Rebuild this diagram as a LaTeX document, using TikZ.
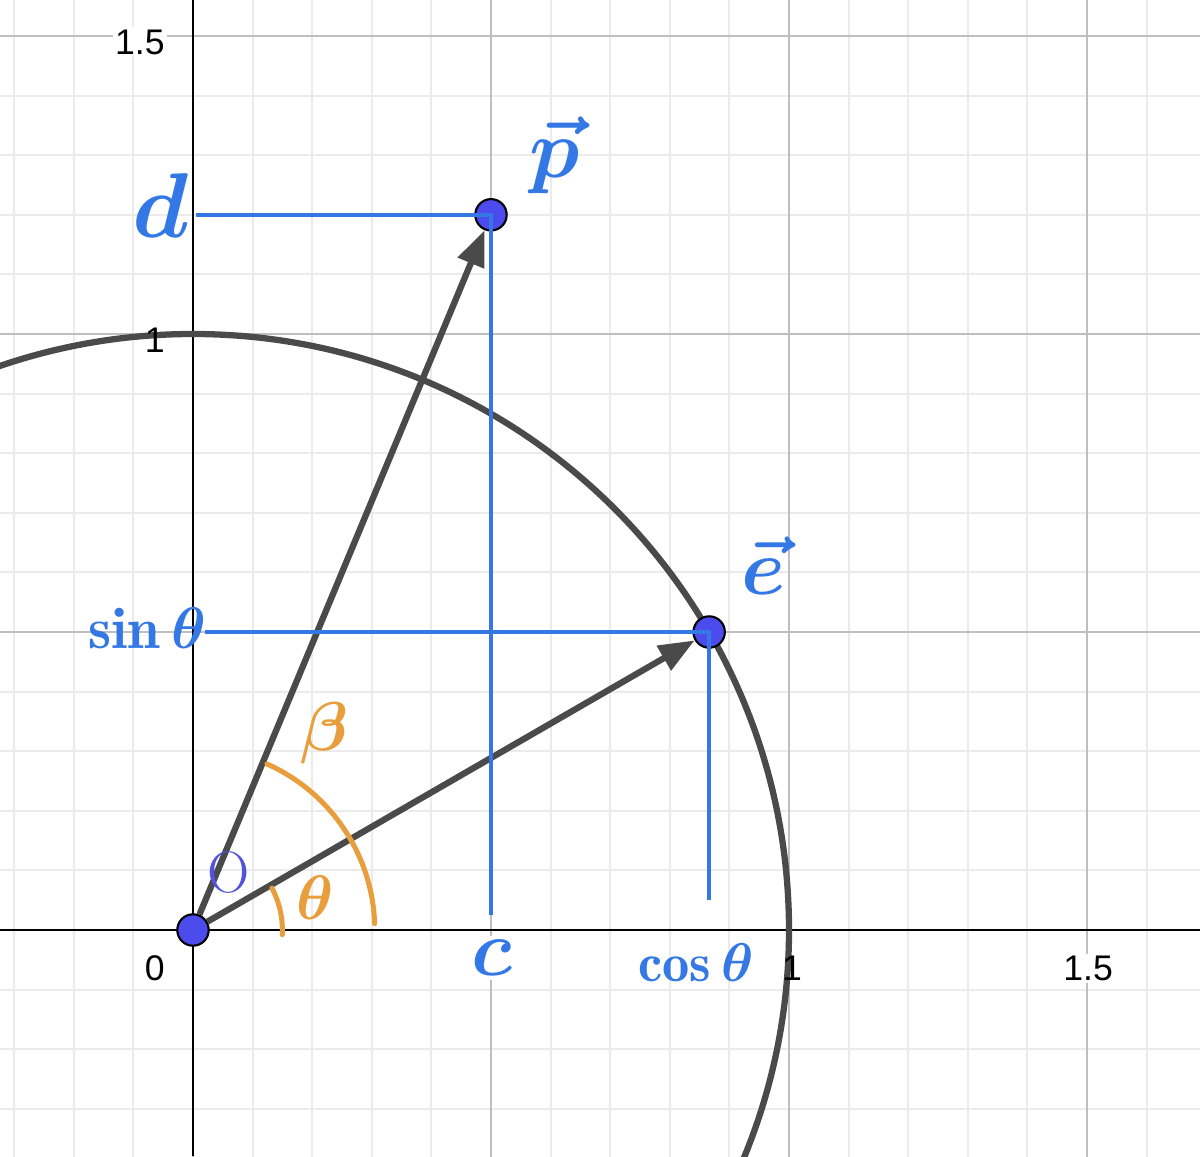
\RequirePackage{fix-cm}
\documentclass[tikz,border=0pt]{standalone}
\usepackage{amsmath}
\usepackage{fontspec}
\usepackage{tikz}
\usetikzlibrary{arrows.meta, positioning}
\newfontfamily\ticksfont{Liberation Sans}
\definecolor{penblue}{RGB}{52,120,229}
\definecolor{penorange}{RGB}{232,158,60}
\definecolor{penviolet}{RGB}{82,82,222}
\definecolor{dotblue}{RGB}{76,76,238}
\definecolor{curvegray}{RGB}{74,74,74}
\tikzset{
        x=10cm, y=10cm, % one unit of the plot
        minorgrid/.style={draw=black!8, line width=0.9pt}, % light grid every 0.1
        majorgrid/.style={draw=black!25, line width=1.2pt}, % darker grid every 0.5
        axis/.style={black, line width=1.2pt},
        curve/.style={curvegray, line width=3pt},
        vec/.style={curvegray, line width=3pt, -{Triangle[length=17pt,width=13pt]}},
        proj/.style={penblue, line width=1.9pt},
        dot/.style={circle, draw=black, line width=1pt, fill=dotblue, minimum size=15pt, inner sep=0pt},
        ticklabel/.style={font=\ticksfont\fontsize{17}{20}\selectfont, text=black, inner sep=1pt},
        pen/.style={text=penblue, inner sep=0pt},
        ang/.style={penorange, line width=2.4pt, line cap=round},
    }

\begin{document}
\begin{tikzpicture}
    \useasboundingbox (-0.3238,-0.3792) rectangle (1.6896,1.5604);
    % grid
    \draw[minorgrid] (-0.4,-0.4) grid[step=1cm] (1.7,1.6);
    \draw[majorgrid] (-0.4,-0.4) grid[step=5cm] (1.7,1.6);
    \draw[axis] (-0.33,0) -- (1.7,0);
    \draw[axis] (0,-0.38) -- (0,1.57);
    % unit circle
    \begin{scope}
      \clip (-0.3238,-0.3792) rectangle (1.6896,1.5604);
      \draw[curve] (0,0) circle (1);
    \end{scope}
    % points
    \node[dot] (O) at (0,0) {};
    \node[dot] (P) at (0.5,1.2) {};
    \node[dot] (E) at ({cos(30)},{sin(30)}) {};
    \draw[vec] (O) -- (P);
    \draw[vec] (O) -- (E);
    % projections
    \coordinate (dfoot) at (0.005,1.2);
    \coordinate (cfoot) at (0.5,0.025);
    \coordinate (sfoot) at (0.02,0.5);
    \coordinate (cosfoot) at ({cos(30)},0.05);
    \draw[proj] (dfoot) -- (P.center) -- (cfoot);
    \draw[proj] (sfoot) -- (E.center) -- (cosfoot);
    % angles
    \draw[ang] (O.center) ++(28:0.15) arc[start angle=28, end angle=-3, radius=0.15];
    \draw[ang] (O.center) ++(66:0.305) arc[start angle=66, end angle=2, radius=0.305];
    % tick labels
    \node[ticklabel, fill=white] (y15) at (-0.089,1.490) {1.5};
    \node[ticklabel] (y1) at (-0.064,0.990) {1};
    \node[ticklabel, fill=white] (x0) at (-0.064,-0.064) {0};
    \node[ticklabel] (x1) at (1.005,-0.064) {1};
    \node[ticklabel, fill=white] (x15) at (1.502,-0.064) {1.5};
    % handwritten labels
    \node[pen, font=\fontsize{44}{48}\selectfont\mathversion{bold}] (dlabel) at (-0.055,1.216) {$d$};
    \node[pen, font=\fontsize{28}{32}\selectfont\mathversion{bold}] (sinlabel) at (-0.077,0.507) {$\sin\theta$};
    \node[pen, font=\fontsize{40}{44}\selectfont\mathversion{bold}] (plabel) at (0.606,1.300) {$\vec{p}$};
    \node[pen, font=\fontsize{38}{42}\selectfont\mathversion{bold}] (elabel) at (0.958,0.612) {$\vec{e}$};
    \node[pen, fill=white, inner sep=2pt, font=\fontsize{38}{42}\selectfont\mathversion{bold}] (clabel) at (0.502,-0.047) {$c$};
    \node[pen, font=\fontsize{26}{30}\selectfont\mathversion{bold}] (coslabel) at (0.844,-0.055) {$\cos\theta$};
    \node[text=penorange, inner sep=0pt, font=\fontsize{33}{36}\selectfont\mathversion{bold}] (blabel) at (0.221,0.331) {$\beta$};
    \node[text=penorange, inner sep=0pt, font=\fontsize{30}{34}\selectfont\mathversion{bold}] (tlabel) at (0.205,0.055) {$\theta$};
    \node[text=penviolet, inner sep=0pt, font=\fontsize{28}{32}\selectfont] (olabel) at (0.059,0.096) {O};
  \end{tikzpicture}
\end{document}
